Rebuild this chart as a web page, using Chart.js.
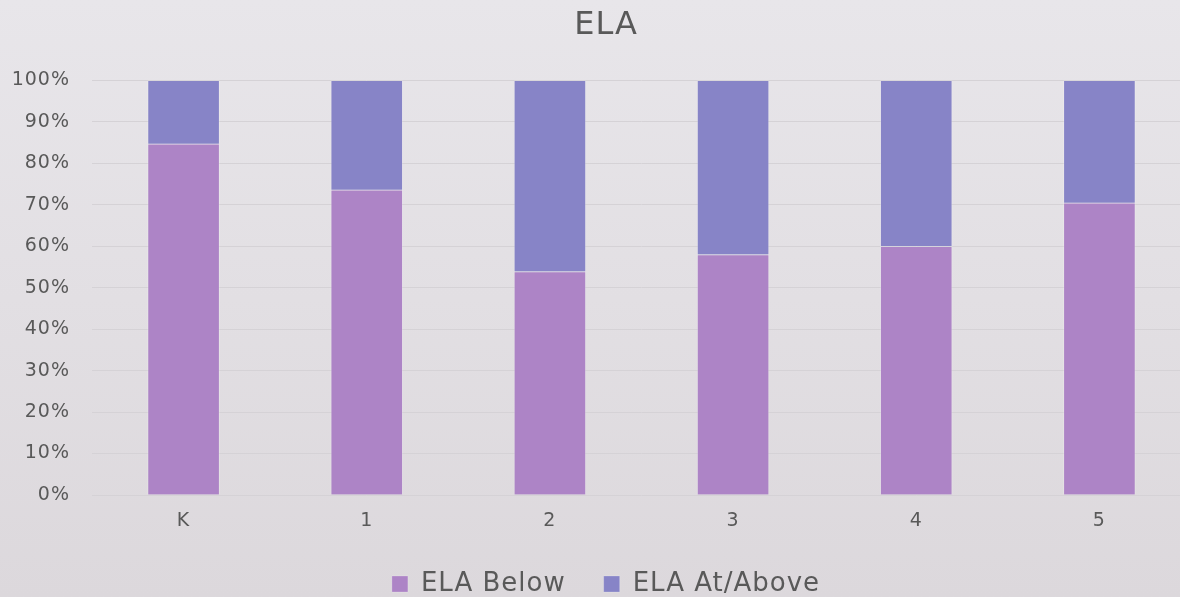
<!DOCTYPE html>
<html lang="en">
<head>
<meta charset="UTF-8">
<title>ELA</title>
<script src="https://cdn.jsdelivr.net/npm/chart.js"></script>
<style>
    html, body { margin: 0; padding: 0; }
    body {
        width: 1180px;
        height: 597px;
        overflow: hidden;
        background: linear-gradient(180deg, #e8e6ea 0%, #dcd8dc 100%);
    }
    .wrap { width: 1212px; height: 597px; }
</style>
</head>
<body>
<div class="wrap"><canvas id="elaChart" width="1212" height="597"></canvas></div>
<script>
    // Grade levels and share of students per band (percent)
    const grades = ['K', '1', '2', '3', '4', '5'];
    const elaBelow = [84.7, 73.6, 53.9, 58.0, 60.0, 70.5];
    const elaAtAbove = [15.3, 26.4, 46.1, 42.0, 40.0, 29.5];

    const FONT = "'DejaVu Sans', sans-serif";
    const TEXT = '#595959';

    // a little extra tracking so the labels read wider
    const spacing = {
        id: 'spacing',
        beforeLayout(chart) { chart.ctx.letterSpacing = '1px'; },
        beforeDraw(chart) { chart.ctx.letterSpacing = '1px'; }
    };

    new Chart(document.getElementById('elaChart'), {
        type: 'bar',
        data: {
            labels: grades,
            datasets: [
                {
                    label: 'ELA Below',
                    data: elaBelow,
                    backgroundColor: '#ad84c6',
                    borderColor: 'rgba(255,255,255,0.2)',
                    borderWidth: 1
                },
                {
                    label: 'ELA At/Above',
                    data: elaAtAbove,
                    backgroundColor: '#8784c7',
                    borderColor: 'rgba(255,255,255,0.2)',
                    borderWidth: 1
                }
            ]
        },
        options: {
            responsive: false,
            animation: false,
            barThickness: 72,
            layout: { padding: { top: 0, bottom: -10, left: 0, right: 0 } },
            scales: {
                x: {
                    stacked: true,
                    grid: { display: false },
                    border: { display: false },
                    afterFit: (s) => { s.height = 38; },
                    ticks: { color: TEXT, font: { family: FONT, size: 19 }, padding: 7 }
                },
                y: {
                    stacked: true,
                    min: 0,
                    max: 100,
                    afterFit: (s) => { s.width = 92; },
                    grid: { color: '#d5d2d6', drawTicks: false },
                    border: { display: false },
                    ticks: {
                        stepSize: 10,
                        padding: 22,
                        color: TEXT,
                        font: { family: FONT, size: 19 },
                        callback: (v) => v + '%'
                    }
                },
                // empty strip on the right edge
                yRight: {
                    type: 'linear',
                    position: 'right',
                    grid: { display: false },
                    border: { display: false },
                    ticks: { display: false },
                    afterFit: (s) => { s.width = 21; }
                }
            },
            plugins: {
                title: {
                    display: true,
                    text: 'ELA',
                    color: TEXT,
                    font: { family: FONT, size: 32, weight: 'normal' },
                    padding: { top: 6, bottom: 36 }
                },
                legend: {
                    position: 'bottom',
                    labels: {
                        color: TEXT,
                        font: { family: FONT, size: 26 },
                        boxWidth: 16,
                        boxHeight: 16,
                        padding: 38
                    }
                },
                tooltip: { enabled: false }
            }
        },
        plugins: [spacing]
    });
</script>
</body>
</html>
